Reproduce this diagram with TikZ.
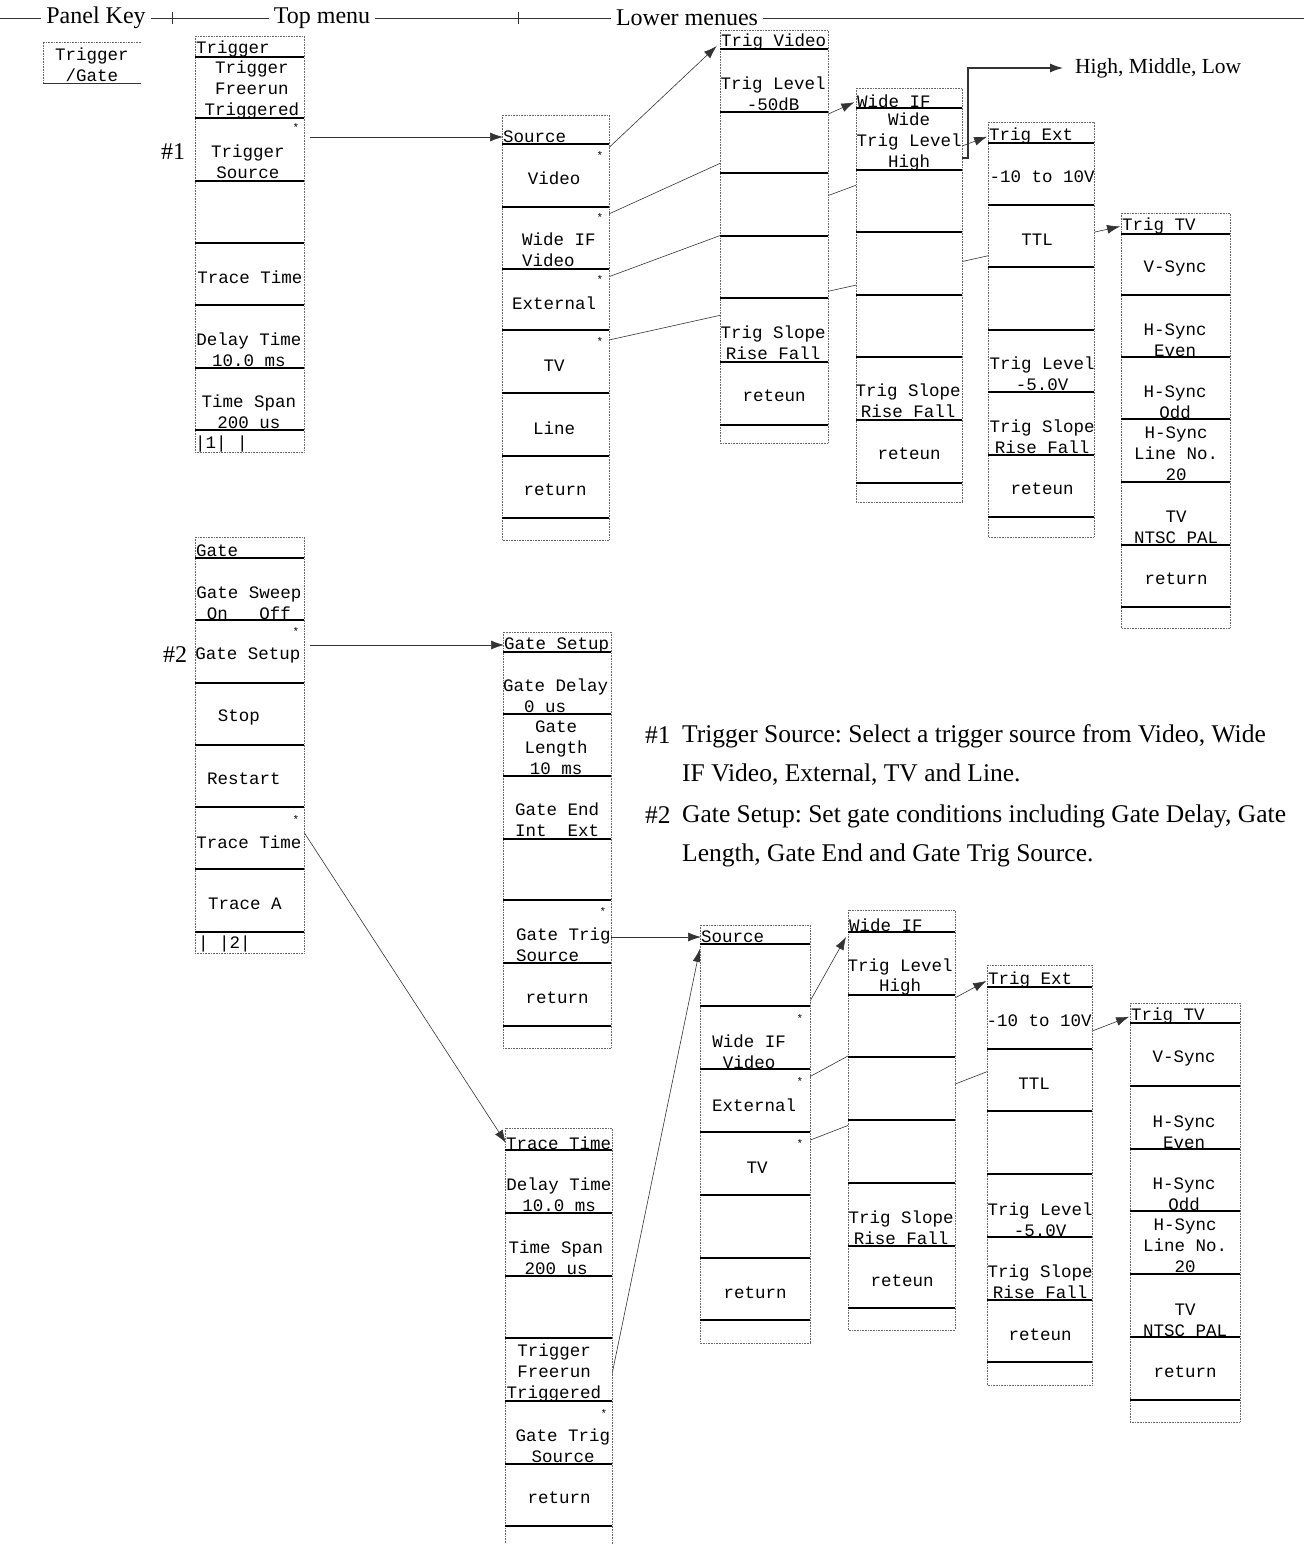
\documentclass[tikz,border=0pt]{standalone}
\usepackage{fontspec}
\setmainfont{Liberation Serif}
\newfontfamily\keyfont{Liberation Mono}
\usetikzlibrary{arrows.meta}
\pgfdeclarelayer{background}
\pgfsetlayers{background,main}
\frenchspacing

\begin{document}
\begin{tikzpicture}[x=1pt, y=-1pt,
    panel/.style={densely dotted, black!60, line width=0.6pt, fill=white},
    keyline/.style={line width=1.2pt},
    head/.style={anchor=west, inner sep=0pt, font=\keyfont\fontsize{17.5}{20.8}\selectfont},
    key/.style={align=center, inner sep=0pt, font=\keyfont\fontsize{17.5}{20.8}\selectfont},
    astk/.style={inner sep=0pt, font=\keyfont\fontsize{11}{11}\selectfont},
    note/.style={inner sep=0pt, font=\fontsize{24}{39}\selectfont},
    remark/.style={inner sep=0pt, font=\fontsize{25.5}{39}\selectfont},
    link/.style={line width=0.6pt, black!80},
    >={Latex[length=13pt, width=9pt]}]
    \useasboundingbox (0,0) rectangle (1304,1544);

    % Header line
    \node[note, inner sep=5pt] (hkey) at (96,18) {Panel Key};
    \node[note, inner sep=5pt] (htop) at (322,18) {Top menu};
    \node[note, inner sep=5pt] (hlow) at (687,18) {Lower menues};
    \draw[link] (0,18) -- (hkey) (hkey) -- (htop) (htop) -- (hlow) (hlow) -- (1304,18);
    \draw[link] (172,12) -- (172,24) (518,12) -- (518,24);

    % Panel key
    \draw[panel, fill=none] (141,42) -- (43,42) -- (43,83);
    \draw[link] (43,83) -- (141,83);
    \node[key] (pk) at (92,65) {Trigger\\/Gate};

    % Top menu: Trigger
    \draw[panel] (195,36) rectangle (304,452);
    \draw[keyline] (195,57) -- (304,57) (195,118) -- (304,118) (195,181) -- (304,181)
        (195,243) -- (304,243) (195,305) -- (304,305) (195,368) -- (304,368) (195,430) -- (304,430);
    \node[head] (kTrg) at (196,49) {Trigger};
    \node[key] (k1) at (252,90) {Trigger\\Freerun\\Triggered};
    \node[astk] (kTS) at (296,128) {*};
    \node[key] (k2) at (248,162) {Trigger\\Source};
    \node[key] (k3) at (250,277) {Trace Time};
    \node[key] (k4) at (249,350) {Delay Time\\10.0 ms};
    \node[key] (k5) at (249,412) {Time Span\\200 us};
    \node[head] (k6) at (195,444) {|1| |};
    \node[note] (n1a) at (173,152) {\#1};

    % Top menu: Gate
    \draw[panel] (195,537) rectangle (304,953);
    \draw[keyline] (195,558) -- (304,558) (195,620) -- (304,620) (195,683) -- (304,683)
        (195,745) -- (304,745) (195,807) -- (304,807) (195,869) -- (304,869) (195,932) -- (304,932);
    \node[head] (gGat) at (196,551) {Gate};
    \node[key] (g1) at (249,603) {Gate Sweep\\On~~~Off};
    \node[astk] (gS) at (296,632) {*};
    \node[key] (g2) at (248,655) {Gate Setup};
    \node[key] (g3) at (239,717) {Stop};
    \node[key] (g4) at (244,779) {Restart};
    \node[astk] (gT) at (296,820) {*};
    \node[key] (g5) at (249,842) {Trace Time};
    \node[key] (g6) at (245,904) {Trace A};
    \node[head] (g7) at (198,944) {| |2|};
    \node[note] (n2a) at (175,655) {\#2};

    % Source (upper)
    \draw[panel] (502,115) rectangle (609,540);
    \draw[keyline] (502,144) -- (609,144) (502,207) -- (609,207) (502,269) -- (609,269)
        (502,330) -- (609,330) (502,393) -- (609,393) (502,456) -- (609,456) (502,518) -- (609,518);
    \node[head] (uSrc) at (503,137) {Source};
    \node[astk] (uV) at (600,156) {*};
    \node[key] (u1) at (554,178) {Video};
    \node[astk] (uW) at (600,218) {*};
    \node[key, align=left, anchor=west] (u2) at (522,250) {Wide IF\\Video};
    \node[astk] (uE) at (600,280) {*};
    \node[key] (u3) at (554,303) {External};
    \node[astk] (uT) at (600,342) {*};
    \node[key] (u4) at (554,366) {TV};
    \node[key] (u5) at (554,428) {Line};
    \node[key] (u6) at (555,490) {return};

    % Trig Video
    \draw[panel] (720,30) rectangle (828,443);
    \draw[keyline] (720,49) -- (828,49) (720,112) -- (828,112) (720,173) -- (828,173)
        (720,236) -- (828,236) (720,298) -- (828,298) (720,362) -- (828,362) (720,425) -- (828,425);
    \node[head] (uTrv) at (721,42) {Trig Video};
    \node[key] (v1) at (773,94) {Trig Level\\-50dB};
    \node[key] (v2) at (773,343) {Trig Slope\\Rise Fall};
    \node[key] (v3) at (774,396) {reteun};

    % Wide IF (upper)
    \draw[panel] (856,88) rectangle (962,502);
    \draw[keyline] (856,108) -- (962,108) (856,170) -- (962,170) (856,232) -- (962,232)
        (856,295) -- (962,295) (856,357) -- (962,357) (856,420) -- (962,420) (856,483) -- (962,483);
    \node[head] (uWif) at (857,101) {Wide IF};
    \node[key] (w1) at (909,142) {Wide\\Trig Level\\High};
    \node[key] (w2) at (908,401) {Trig Slope\\Rise Fall};
    \node[key] (w3) at (909,454) {reteun};
    \coordinate (wb) at (962,158);
    \node[note, font=\fontsize{21.5}{26}\selectfont, anchor=west] (hml) at (1075,68) {High, Middle, Low};
    \draw[link, line width=1.2pt, ->, shorten >=12pt] (wb) -- ++(6,0) |- (hml.west);

    % Trig Ext (upper)
    \draw[panel] (988,122) rectangle (1094,537);
    \draw[keyline] (988,143) -- (1094,143) (988,205) -- (1094,205) (988,267) -- (1094,267)
        (988,330) -- (1094,330) (988,392) -- (1094,392) (988,455) -- (1094,455) (988,517) -- (1094,517);
    \node[head] (uExt) at (989,136) {Trig Ext};
    \node[key] (e1) at (1042,177) {-10 to 10V};
    \node[key] (e2) at (1037,240) {TTL};
    \node[key] (e3) at (1042,374) {Trig Level\\-5.0V};
    \node[key] (e4) at (1042,437) {Trig Slope\\Rise Fall};
    \node[key] (e5) at (1042,489) {reteun};

    % Trig TV (upper)
    \draw[panel] (1121,213) rectangle (1230,628);
    \draw[keyline] (1121,234) -- (1230,234) (1121,295) -- (1230,295) (1121,357) -- (1230,357)
        (1121,419) -- (1230,419) (1121,482) -- (1230,482) (1121,545) -- (1230,545) (1121,607) -- (1230,607);
    \node[head] (uTtv) at (1122,226) {Trig TV};
    \node[key] (t1) at (1175,268) {V-Sync};
    \node[key] (t2) at (1175,340) {H-Sync\\Even};
    \node[key] (t3) at (1175,402) {H-Sync\\Odd};
    \node[key] (t4) at (1176,454) {H-Sync\\Line No.\\20};
    \node[key] (t5) at (1176,527) {TV\\NTSC PAL};
    \node[key] (t6) at (1176,579) {return};

    % Gate Setup
    \draw[panel] (503,632) rectangle (611,1048);
    \draw[keyline] (503,652) -- (611,652) (503,714) -- (611,714) (503,776) -- (611,776)
        (503,839) -- (611,839) (503,900) -- (611,900) (503,963) -- (611,963) (503,1026) -- (611,1026);
    \node[head] (gSet) at (504,645) {Gate Setup};
    \node[key, align=left, anchor=west] (s1) at (503,696) {Gate Delay\\~~0 us};
    \node[key] (s2) at (556,748) {Gate\\Length\\10 ms};
    \node[key] (s3) at (557,820) {Gate End\\Int~~Ext};
    \node[astk] (sG) at (603,912) {*};
    \node[key, align=left, anchor=west] (s4) at (516,945) {Gate Trig\\Source};
    \node[key] (s5) at (557,998) {return};

    % Source (lower)
    \draw[panel] (700,925) rectangle (810,1343);
    \draw[keyline] (700,944) -- (810,944) (700,1006) -- (810,1006) (700,1069) -- (810,1069)
        (700,1132) -- (810,1132) (700,1195) -- (810,1195) (700,1258) -- (810,1258) (700,1320) -- (810,1320);
    \node[head] (lSrc) at (701,937) {Source};
    \node[astk] (lW) at (800,1019) {*};
    \node[key] (l1) at (749,1052) {Wide IF\\Video};
    \node[astk] (lE) at (800,1082) {*};
    \node[key] (l2) at (754,1105) {External};
    \node[astk] (lT) at (800,1144) {*};
    \node[key] (l3) at (757,1168) {TV};
    \node[key] (l4) at (755,1293) {return};

    % Wide IF (lower)
    \draw[panel] (848,910) rectangle (955,1330);
    \draw[keyline] (848,932) -- (955,932) (848,995) -- (955,995) (848,1057) -- (955,1057)
        (848,1120) -- (955,1120) (848,1183) -- (955,1183) (848,1246) -- (955,1246) (848,1308) -- (955,1308);
    \node[head] (lWif) at (849,925) {Wide IF};
    \node[key] (i1) at (900,977) {Trig Level\\High};
    \node[key] (i2) at (901,1228) {Trig Slope\\Rise Fall};
    \node[key] (i3) at (902,1281) {reteun};

    % Trig Ext (lower)
    \draw[panel] (987,965) rectangle (1092,1385);
    \draw[keyline] (987,987) -- (1092,987) (987,1049) -- (1092,1049) (987,1111) -- (1092,1111)
        (987,1174) -- (1092,1174) (987,1237) -- (1092,1237) (987,1300) -- (1092,1300) (987,1362) -- (1092,1362);
    \node[head] (lExt) at (988,980) {Trig Ext};
    \node[key] (x1) at (1039,1021) {-10 to 10V};
    \node[key] (x2) at (1034,1084) {TTL};
    \node[key] (x3) at (1040,1220) {Trig Level\\-5.0V};
    \node[key] (x4) at (1040,1282) {Trig Slope\\Rise Fall};
    \node[key] (x5) at (1040,1335) {reteun};

    % Trig TV (lower)
    \draw[panel] (1130,1003) rectangle (1240,1422);
    \draw[keyline] (1130,1023) -- (1240,1023) (1130,1086) -- (1240,1086) (1130,1149) -- (1240,1149)
        (1130,1211) -- (1240,1211) (1130,1274) -- (1240,1274) (1130,1337) -- (1240,1337) (1130,1400) -- (1240,1400);
    \node[head] (lTtv) at (1131,1016) {Trig TV};
    \node[key] (y1) at (1184,1058) {V-Sync};
    \node[key] (y2) at (1184,1132) {H-Sync\\Even};
    \node[key] (y3) at (1184,1194) {H-Sync\\Odd};
    \node[key] (y4) at (1185,1246) {H-Sync\\Line No.\\20};
    \node[key] (y5) at (1185,1320) {TV\\NTSC PAL};
    \node[key] (y6) at (1185,1372) {return};

    % Trace Time
    \draw[panel] (505,1128) rectangle (612,1544);
    \draw[keyline] (505,1150) -- (612,1150) (505,1213) -- (612,1213) (505,1276) -- (612,1276)
        (505,1338) -- (612,1338) (505,1401) -- (612,1401) (505,1464) -- (612,1464) (505,1526) -- (612,1526);
    \node[head] (lTrt) at (506,1143) {Trace Time};
    \node[key] (r1) at (559,1195) {Delay Time\\10.0 ms};
    \node[key] (r2) at (556,1258) {Time Span\\200 us};
    \node[key] (r3) at (554,1373) {Trigger\\Freerun\\Triggered};
    \node[astk] (tG) at (604,1413) {*};
    \node[key] (r4) at (563,1446) {Gate Trig\\Source};
    \node[key] (r5) at (559,1498) {return};

    % Notes
    \node[remark, anchor=west] (n1) at (645,735) {\#1};
    \node[remark, anchor=west, align=left] (n1t) at (682,755) {Trigger Source: Select a trigger source from Video, Wide\\IF Video, External, TV and Line.};
    \node[remark, anchor=west] (n2) at (645,815) {\#2};
    \node[remark, anchor=west, align=left] (n2t) at (682,836) {Gate Setup: Set gate conditions including Gate Delay, Gate\\Length, Gate End and Gate Trig Source.};

    % Draw the connections (behind the menus)
    \begin{pgfonlayer}{background}
    \draw[link, ->, shorten <=10pt] (kTS.east |- uSrc.west) -- (uSrc.west);
    \draw[link, ->, shorten >=6pt] (uV) -- (uTrv.west);
    \draw[link, ->, shorten >=3pt] (uW) -- (uWif.west);
    \draw[link, ->, shorten >=2pt] (uE) -- (uExt.west);
    \draw[link, ->, shorten >=2pt] (uT) -- (uTtv.west);

    \draw[link, ->, shorten <=10pt] (gS.east |- gSet.west) -- (gSet.west);
    \draw[link, ->] (gT) -- (lTrt.west);
    \draw[link, ->] (sG.east |- lSrc.west) -- (lSrc.west);
    \draw[link, ->, shorten >=6pt] (tG) -- (lSrc.south west);
    \draw[link, ->, shorten >=6pt] (lW) -- (lWif.south west);
    \draw[link, ->, shorten >=2pt] (lE) -- (lExt.west);
    \draw[link, ->, shorten >=2pt] (lT) -- (lTtv.west);
    \end{pgfonlayer}
\end{tikzpicture}
\end{document}
